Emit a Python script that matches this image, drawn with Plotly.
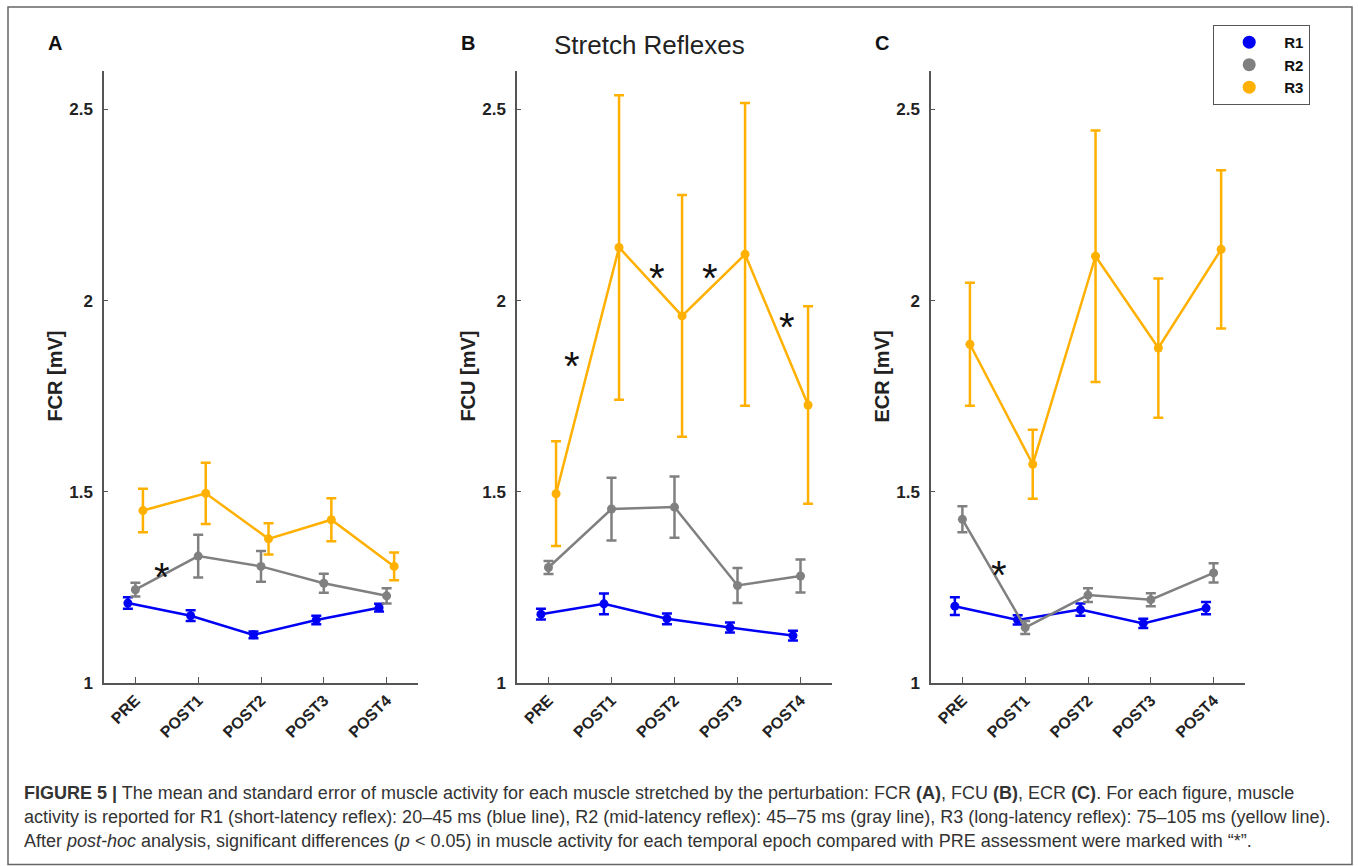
import plotly.graph_objects as go

categories = ["PRE", "POST1", "POST2", "POST3", "POST4"]
series_names = ["R1", "R2", "R3"]
panel_labels = ["A", "B", "C"]
y_titles = ["FCR [mV]", "FCU [mV]", "ECR [mV]"]
y_tick_vals = [1, 1.5, 2, 2.5]
y_tick_text = ["1", "1.5", "2", "2.5"]

# Panel A (FCR)
fcr_r1_mean = [1.209, 1.176, 1.126, 1.165, 1.197]
fcr_r1_se = [0.015, 0.014, 0.009, 0.011, 0.010]
fcr_r2_mean = [1.244, 1.332, 1.305, 1.261, 1.228]
fcr_r2_se = [0.018, 0.056, 0.040, 0.025, 0.020]
fcr_r3_mean = [1.451, 1.496, 1.377, 1.427, 1.305]
fcr_r3_se = [0.057, 0.080, 0.041, 0.056, 0.036]

# Panel B (FCU)
fcu_r1_mean = [1.180, 1.207, 1.168, 1.145, 1.124]
fcu_r1_se = [0.014, 0.027, 0.014, 0.013, 0.013]
fcu_r2_mean = [1.302, 1.455, 1.460, 1.255, 1.280]
fcu_r2_se = [0.017, 0.082, 0.080, 0.046, 0.043]
fcu_r3_mean = [1.495, 2.139, 1.960, 2.121, 1.727]
fcu_r3_se = [0.137, 0.398, 0.316, 0.396, 0.258]

# Panel C (ECR)
ecr_r1_mean = [1.201, 1.165, 1.192, 1.156, 1.196]
ecr_r1_se = [0.023, 0.012, 0.016, 0.012, 0.016]
ecr_r2_mean = [1.428, 1.145, 1.230, 1.218, 1.288]
ecr_r2_se = [0.034, 0.017, 0.018, 0.017, 0.025]
ecr_r3_mean = [1.886, 1.572, 2.116, 1.876, 2.134]
ecr_r3_se = [0.161, 0.090, 0.329, 0.182, 0.207]

# significance markers (category position, value)
star_a_x = [0.42]
star_a_y = [1.314]
star_b_x = [0.38, 1.72, 2.57, 3.79]
star_b_y = [1.865, 2.095, 2.095, 1.968]
star_c_x = [0.58]
star_c_y = [1.320]

caption_lines = [
    "<b>FIGURE 5 |</b> The mean and standard error of muscle activity for each muscle stretched by the perturbation: FCR <b>(A)</b>, FCU <b>(B)</b>, ECR <b>(C)</b>. For each figure, muscle",
    "activity is reported for R1 (short-latency reflex): 20–45 ms (blue line), R2 (mid-latency reflex): 45–75 ms (gray line), R3 (long-latency reflex): 75–105 ms (yellow line).",
    "After <i>post-hoc</i> analysis, significant differences (<i>p</i> < 0.05) in muscle activity for each temporal epoch compared with PRE assessment were marked with “*”.",
]

colors = ["#0000F5", "#808080", "#FFB000"]
offsets = [-0.12, 0.0, 0.12]

panels = [
    ([fcr_r1_mean, fcr_r2_mean, fcr_r3_mean], [fcr_r1_se, fcr_r2_se, fcr_r3_se], star_a_x, star_a_y),
    ([fcu_r1_mean, fcu_r2_mean, fcu_r3_mean], [fcu_r1_se, fcu_r2_se, fcu_r3_se], star_b_x, star_b_y),
    ([ecr_r1_mean, ecr_r2_mean, ecr_r3_mean], [ecr_r1_se, ecr_r2_se, ecr_r3_se], star_c_x, star_c_y),
]

W, H = 1358, 866
x_px = [(104, 418), (517, 832), (931, 1245)]
y_top_px, y_bot_px = 72, 691
ydom = [(H - y_bot_px) / H, (H - y_top_px) / H]

FONT = "Liberation Sans, Arial, Helvetica, sans-serif"
fig = go.Figure()
layout = {}
annotations = []

for p, (means, ses, sx, sy) in enumerate(panels):
    sfx = "" if p == 0 else str(p + 1)
    xa, ya = "x" + sfx, "y" + sfx
    for s in range(3):
        xs = [i + offsets[s] for i in range(len(categories))]
        fig.add_trace(go.Scatter(
            x=xs, y=means[s], mode="lines+markers", xaxis=xa, yaxis=ya,
            line=dict(color=colors[s], width=2.5),
            marker=dict(color=colors[s], size=9),
            error_y=dict(type="data", array=ses[s], color=colors[s], thickness=2.5, width=5),
            showlegend=False, hoverinfo="skip"))
    for xv, yv in zip(sx, sy):
        annotations.append(dict(
            x=xv, y=yv, xref=xa, yref=ya, text="*", showarrow=False,
            font=dict(size=40, color="#111111", family=FONT),
            xanchor="center", yanchor="middle", yshift=-14))
    x0, x1 = x_px[p]
    layout["xaxis" + sfx] = dict(
        domain=[x0 / W, x1 / W], range=[-0.5, 4.5], anchor=ya,
        tickmode="array", tickvals=list(range(len(categories))),
        ticktext=["<b>" + c + "</b>" for c in categories], tickangle=-45,
        showline=True, linecolor="#555555", linewidth=1.5,
        ticks="inside", ticklen=6, tickcolor="#555555", tickwidth=1.2,
        showgrid=False, zeroline=False,
        tickfont=dict(size=16, color="#222222", family=FONT))
    layout["yaxis" + sfx] = dict(
        domain=ydom, range=[1, 2.6], anchor=xa,
        tickmode="array", tickvals=y_tick_vals,
        ticktext=["<b>" + t + "</b>" for t in y_tick_text],
        showline=True, linecolor="#555555", linewidth=1.5,
        ticks="inside", ticklen=4, tickcolor="#555555", tickwidth=1.2,
        showgrid=False, zeroline=False, ticklabelstandoff=6,
        tickfont=dict(size=17, color="#222222", family=FONT))
    annotations.append(dict(
        x=(x0 - 49) / W, y=(H - 381) / H, xref="paper", yref="paper",
        text="<b>" + y_titles[p] + "</b>", textangle=-90, showarrow=False,
        font=dict(size=20, color="#222222", family=FONT), xanchor="center", yanchor="middle"))
    annotations.append(dict(
        x=(x0 - 49) / W, y=(H - 43) / H, xref="paper", yref="paper",
        text="<b>" + panel_labels[p] + "</b>", showarrow=False,
        font=dict(size=20, color="#111111", family=FONT), xanchor="center", yanchor="middle"))

# legend entries
for s in range(3):
    fig.add_trace(go.Scatter(
        x=[None], y=[None], mode="markers", name="<b>" + series_names[s] + "</b>",
        marker=dict(color=colors[s], size=13), showlegend=True))

annotations.append(dict(
    x=649 / W, y=(H - 46) / H, xref="paper", yref="paper", text="Stretch Reflexes",
    showarrow=False, font=dict(size=26, color="#222222", family=FONT),
    xanchor="center", yanchor="middle"))

caption_y = [802, 827, 851]
for line, yy in zip(caption_lines, caption_y):
    annotations.append(dict(
        x=22 / W, y=(H - yy) / H, xref="paper", yref="paper", text=line,
        showarrow=False, font=dict(size=18, color="#333333", family=FONT),
        xanchor="left", yanchor="middle", align="left"))

fig.update_layout(
    width=W, height=H, margin=dict(l=0, r=0, t=0, b=0),
    paper_bgcolor="white", plot_bgcolor="white",
    annotations=annotations,
    legend=dict(x=1213 / W, y=(H - 25) / H, xanchor="left", yanchor="top",
                bordercolor="#555555", borderwidth=1.2, bgcolor="white",
                font=dict(size=15, color="#111111", family=FONT),
                itemwidth=60, tracegroupgap=0),
    shapes=[dict(type="rect", xref="paper", yref="paper",
                 x0=8 / W, x1=1352 / W, y0=-0.01, y1=(H - 7) / H,
                 line=dict(color="#666666", width=1.5))],
    **layout)

fig.write_html(
    "out.html",
    config={"displayModeBar": False},
    post_script=(
        "document.body.style.margin='0';"
        "document.body.style.overflow='hidden';"
        "document.documentElement.style.overflow='hidden';"
    ),
)
